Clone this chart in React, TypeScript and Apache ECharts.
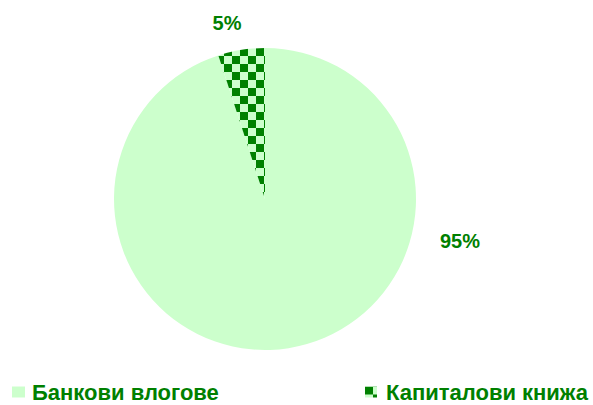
import React, { useEffect, useRef } from "react";
import * as echarts from "echarts";

const categories = ["Банкови влогове", "Капиталови книжа"];
const values = [95, 5];
const labelTexts = ["95%", "5%"];

const DARK = "#008000";
const LIGHT = "#ccffcc";

function makeChecker(): string {
  const c = document.createElement("canvas");
  c.width = 16;
  c.height = 16;
  const ctx = c.getContext("2d")!;
  ctx.fillStyle = LIGHT;
  ctx.fillRect(0, 0, 16, 16);
  ctx.fillStyle = DARK;
  ctx.fillRect(0, 0, 8, 8);
  ctx.fillRect(8, 8, 8, 8);
  return c.toDataURL();
}

export default function App() {
  const ref = useRef<HTMLDivElement>(null);
  useEffect(() => {
    document.body.style.margin = "0";
    const chart = echarts.init(ref.current!, null, { renderer: "svg" });
    const checker = { image: makeChecker(), repeat: "repeat", imageWidth: 16, imageHeight: 16 } as any;
    const labelPos = [
      [460, 241],
      [227, 23],
    ];
    const legendText = {
      color: DARK,
      fontFamily: "Liberation Sans",
      fontWeight: "bold",
      fontSize: 22,
      lineHeight: 19,
      padding: [0, 0, 0, 2],
    };
    chart.setOption({
      animation: false,
      backgroundColor: "#ffffff",
      legend: [
        {
          data: [categories[0]],
          left: 7,
          top: 376,
          padding: [5, 5, 0, 5],
          icon: "rect",
          itemWidth: 13,
          itemHeight: 11,
          textStyle: legendText,
        },
        {
          data: [categories[1]],
          left: 360,
          top: 376,
          padding: [5, 5, 0, 5],
          icon: "rect",
          itemWidth: 12,
          itemHeight: 11,
          textStyle: { ...legendText, padding: [0, 0, 0, 4] },
        },
      ],
      series: [
        {
          type: "pie",
          center: [265, 199],
          radius: 151,
          startAngle: 90,
          clockwise: true,
          data: categories.map((name, i) => ({
            name,
            value: values[i],
            itemStyle: { color: i === 0 ? LIGHT : checker },
            label: { formatter: labelTexts[i] },
          })),
          label: {
            show: true,
            color: DARK,
            fontFamily: "Liberation Sans",
            fontWeight: "bold",
            fontSize: 20,
          },
          labelLine: { show: false },
          labelLayout: (p: any) => ({
            x: labelPos[p.dataIndex][0],
            y: labelPos[p.dataIndex][1],
            align: "center",
            verticalAlign: "middle",
          }),
          emphasis: { disabled: true },
        },
      ],
    });
    return () => chart.dispose();
  }, []);
  return <div ref={ref} style={{ position: "absolute", left: 0, top: 0, width: 593, height: 405 }} />;
}
